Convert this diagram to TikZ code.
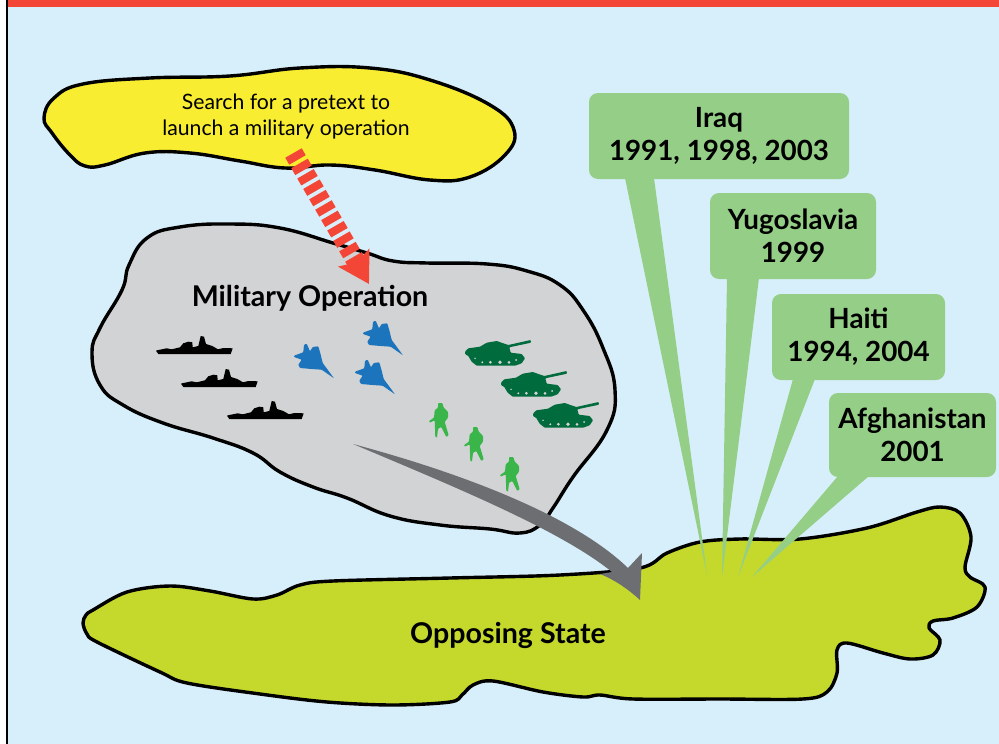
\documentclass[tikz,border=0pt]{standalone}
\usepackage{fontspec}
\setmainfont{Lato}[Ligatures=TeX,Contextuals=NoAlternate]
\usepackage{tikz}
\usetikzlibrary{arrows.meta}
\definecolor{skyback}{HTML}{D7EFFA}
\definecolor{redband}{HTML}{F34637}
\definecolor{pretextyellow}{HTML}{F9ED32}
\definecolor{opgray}{HTML}{D1D3D4}
\definecolor{landgreen}{HTML}{C5D92D}
\definecolor{calloutgreen}{HTML}{95CE86}
\definecolor{arrowgray}{HTML}{6D6E71}
\definecolor{jetblue}{HTML}{1C75BC}
\definecolor{tankgreen}{HTML}{006B3C}
\definecolor{troopgreen}{HTML}{39B54A}
\newcommand{\Ship}[2]{\fill[black,shift={(#1,#2)}] (0,-3.3) -- (2.3,-4) -- (10.7,-5.7) -- (15.7,-4.7) -- (24,-6.7) -- (27.3,-10.7) -- (32.3,-12.3) -- (36.3,-11.7) -- (36.7,-6.7) -- (42.3,-8) -- (44.7,-18) -- (48,-17.3) -- (50,-10) -- (56.3,-8) -- (62,-4.7) -- (67.3,-6) -- (76.7,-5.7) -- (74.7,0) -- (2.3,0) -- cycle;}
\newcommand{\Jet}[2]{\fill[jetblue,rounded corners=0.8pt,shift={(#1,#2)}] (0,12.7) -- (9.3,9.3) -- (10,1.7) -- (12.7,0.7) -- (16,8.3) -- (18.7,4) -- (24.3,3.3) -- (26.7,11.7) -- (28.7,20) -- (40,35.3) -- (27.7,26.7) -- (17.7,26) -- (6,25) -- (4.3,21.7) -- (7.7,16.7) -- (0,14) -- cycle;}
\newcommand{\Tank}[2]{\begin{scope}[shift={(#1,#2)}]
    \fill[tankgreen,rounded corners=0.8pt] (0,11.7) -- (3.3,8.3) -- (15,6.7) -- (21.7,2.7) -- (31.7,1) -- (38.3,3.3) -- (43.3,5) -- (65.7,0) -- (66,2.7) -- (44.3,7.3) -- (45.7,12.7) -- (56.7,14) -- (60,18.3) -- (56.7,23.3) -- (50,25.7) -- (11.7,25.7) -- (6.7,21.7) -- (3.3,16) -- (0,14) -- cycle;
    \fill[opgray] (10,18.3) circle (0.8) (17.3,22.3) circle (1.1) (25.3,22.3) circle (1.5) (35,22.3) circle (1.9) (44,22.3) circle (1.5) (51,20) circle (1);
\end{scope}}
\newcommand{\Troop}[2]{\fill[troopgreen,rounded corners=0.8pt,shift={(#1,#2)}] (9,1) -- (13.3,1) -- (14.7,5.7) -- (19,10) -- (19,15.7) -- (15.7,20) -- (19.7,33.3) -- (17.3,35) -- (12.3,25) -- (9,26.7) -- (8,35.7) -- (6.3,35) -- (5.7,18.3) -- (0.7,20.7) -- (0,19) -- (5,15.7) -- (5.7,8.3) -- (9,5.7) -- cycle;}

\begin{document}
\begin{tikzpicture}[x=1pt,y=-1pt]
    \tikzset{blob/.style = {draw=black,line width=3.4pt,line join=round}}
    \tikzset{place/.style = {font=\fontsize{28.6}{33}\selectfont\bfseries,align=center,inner sep=0pt}}
    \tikzset{callout/.style = {place,font=\fontsize{27.8}{33}\selectfont\bfseries,fill=calloutgreen,rounded corners=9pt}}
    \tikzset{tail/.style = {fill=calloutgreen}}
    \useasboundingbox (0,0) rectangle (999,744);
    % frame
    \fill[white] (0,0) rectangle (999,744);
    \fill[skyback] (7,0) rectangle (999,744);
    \fill[black] (5.5,0) rectangle (8,744);
    \fill[redband] (8,0) rectangle (999,7);
    % land masses
    \filldraw[blob,fill=pretextyellow] plot[smooth cycle,tension=0.7] coordinates {(44,118) (54,98) (83,84) (150,78) (230,76) (300,68) (370,68) (430,80) (490,105) (514,130) (505,155) (470,177) (430,180) (375,170) (330,165) (285,168) (240,161) (190,153) (145,153) (105,165) (85,166) (70,155) (52,133)};
    \filldraw[blob,fill=opgray] plot[smooth cycle,tension=0.75] coordinates {(92,353) (100,328) (122,290) (129,265) (147,238) (180,227) (230,224) (280,228) (333,243) (367,253) (393,261) (427,263) (487,264) (527,271) (560,285) (583,310) (603,348) (615,390) (607,430) (573,477) (553,508) (540,525) (520,533) (490,529) (440,525) (390,516) (347,498) (313,487) (280,472) (253,453) (213,438) (163,423) (123,405) (100,385)};
    \filldraw[blob,fill=landgreen] plot[smooth cycle,tension=0.55] coordinates {(83,623) (86,615) (93,610) (127,592) (170,586) (210,591) (253,599) (277,595) (300,585) (333,581) (450,578) (560,575) (640,568) (667,553) (700,542) (740,539) (800,539) (867,528) (917,512) (940,507) (960,513) (971,537) (965,567) (970,577) (985,587) (977,607) (953,618) (933,621) (929,628) (940,640) (933,655) (910,659) (883,653) (847,643) (837,650) (837,673) (827,692) (803,699) (720,699) (633,699) (600,695) (583,697) (543,692) (493,681) (473,685) (462,695) (450,702) (393,705) (327,702) (260,694) (187,683) (160,672) (97,642) (87,634)};
    % labels
    \node[align=center,inner sep=0pt,font=\fontsize{21.2}{26}\selectfont] (search) at (286,117) {Search for a pretext to\\ launch a military operation};
    \node[place] (military) at (310,298) {Military Operation};
    \node[place] (opposing) at (508,635) {Opposing State};
    % forces
    \Ship{156}{354}
    \Ship{181}{387}
    \Ship{227}{419}
    \Jet{294}{343}
    \Jet{363}{320}
    \Jet{355}{359}
    \Tank{465}{340}
    \Tank{501}{371}
    \Tank{533}{402}
    \Troop{429}{402}
    \Troop{464}{426}
    \Troop{500}{456}
    % callouts
    \node[callout,minimum width=260pt,minimum height=86pt] (iraq) at (719,136) {Iraq\\ 1991, 1998, 2003};
    \node[callout,minimum width=166pt,minimum height=86pt] (yugoslavia) at (793,236) {Yugoslavia\\ 1999};
    \node[callout,minimum width=173pt,minimum height=86pt] (haiti) at (858.5,337) {Haiti\\ 1994, 2004};
    \node[callout,minimum width=167pt,minimum height=84pt] (afghanistan) at (912.5,435) {Afghanistan\\ 2001};
    \coordinate (iraqtip) at (707,575);
    \coordinate (yugoslaviatip) at (722,577);
    \coordinate (haititip) at (738,577);
    \coordinate (afghanistantip) at (752,577);
    \fill[tail] (625,178) -- (654,178) -- (iraqtip) -- cycle;
    \fill[tail] (727,278) -- (759,278) -- (yugoslaviatip) -- cycle;
    \fill[tail] (793,379) -- (815,379) -- (haititip) -- cycle;
    \fill[tail] (838,476) -- (869,476) -- (afghanistantip) -- cycle;
    % arrows
    \coordinate (pretextout) at (293.5,153);
    \coordinate (pretextin) at (369,284);
    \draw[redband,line width=19pt,dash pattern=on 8pt off 4pt,-{Stealth[length=30pt,width=35pt,inset=5pt]}] (pretextout) -- (pretextin);
    \coordinate (strikeout) at (353,444);
    \coordinate (striketip) at (640,600);
    \fill[arrowgray] (strikeout) .. controls (450,470) and (570,512) .. (628,568) -- (642,553) -- (striketip) .. controls (628,589) and (615,580) .. (600,574) -- (612,572) .. controls (560,530) and (455,487) .. (strikeout) -- cycle;
\end{tikzpicture}
\end{document}
